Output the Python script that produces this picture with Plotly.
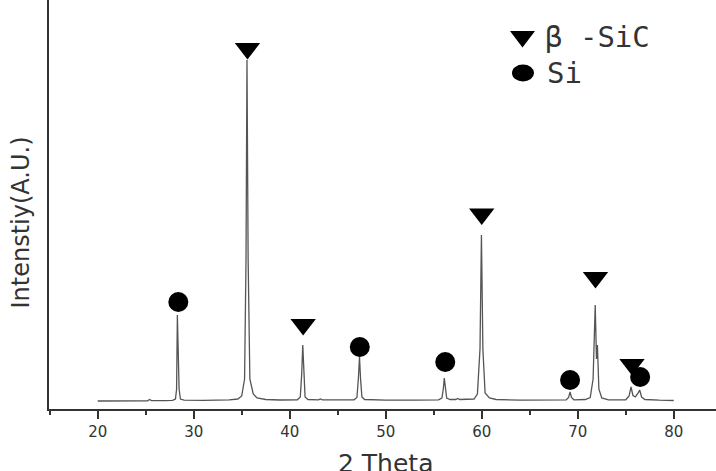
import plotly.graph_objects as go

# XRD pattern points (2-theta, counts)
two_theta = [20.0, 22.0, 24.0, 25.2, 25.4, 25.6, 27.0, 27.8, 28.1, 28.22, 28.3, 28.38, 28.48, 28.62, 29.0,
             31.0, 33.0, 33.5, 33.7, 34.6, 35.0, 35.3, 35.45, 35.55, 35.67, 35.85, 36.2, 36.6, 37.5,
             39.0, 40.8, 41.1, 41.25, 41.36, 41.47, 41.6, 41.9, 43.0, 43.2, 43.4, 46.7, 47.0, 47.15,
             47.27, 47.38, 47.52, 47.8, 50.0, 53.0, 55.5, 55.85, 56.0, 56.1, 56.2, 56.35, 56.7, 57.3,
             57.5, 57.7, 59.2, 59.55, 59.82, 59.97, 60.12, 60.35, 60.8, 61.5, 64.0, 67.0, 68.8, 69.05,
             69.2, 69.35, 69.6, 70.8, 71.3, 71.6, 71.82, 71.95, 72.05, 72.2, 72.5, 73.2, 75.0, 75.35,
             75.55, 75.75, 76.0, 76.3, 76.45, 76.65, 77.0, 78.5, 80.0]
counts = [80, 80, 82, 82, 95, 84, 84, 86, 100, 200, 940, 600, 200, 100, 88,
          86, 88, 95, 92, 100, 130, 300, 1500, 3490, 1500, 300, 150, 110, 95,
          90, 92, 120, 350, 640, 350, 120, 95, 92, 100, 92, 92, 115, 300,
          520, 300, 120, 95, 88, 88, 92, 110, 200, 310, 200, 110, 95, 95,
          105, 95, 100, 150, 600, 1740, 600, 160, 110, 95, 88, 88, 92, 115,
          170, 115, 92, 95, 115, 300, 1040, 500, 640, 200, 110, 92, 92, 130,
          220, 135, 120, 160, 190, 120, 95, 88, 85]

# Phase markers
sic_x = [35.6, 41.4, 60.0, 71.85, 75.65]
sic_y = [3605, 845, 1950, 1315, 445]
si_x = [28.4, 47.3, 56.2, 69.2, 76.5]
si_y = [1070, 620, 470, 290, 320]

x_ticks = [20, 30, 40, 50, 60, 70, 80]
legend_labels = ["β -SiC", "Si"]

fig = go.Figure()
fig.add_trace(go.Scatter(x=two_theta, y=counts, mode="lines",
                         line=dict(color="#555555", width=1.3), showlegend=False))
fig.add_trace(go.Scatter(x=sic_x, y=sic_y, mode="markers",
                         marker=dict(symbol="triangle-down", size=22, color="black"), showlegend=False))
fig.add_trace(go.Scatter(x=si_x, y=si_y, mode="markers",
                         marker=dict(symbol="circle", size=20, color="black"), showlegend=False))

W, H = 716, 471
L, B = 49, 62
pw, ph = W - L, H - B

def px(xp):
    return (xp - L) / pw

def py(yp):
    return (ph - yp) / ph

shapes = [
    dict(type="path", xref="paper", yref="paper", xsizemode="pixel", ysizemode="pixel",
         xanchor=px(522.5), yanchor=py(36.5), path="M-12.5,5.5 L12.5,5.5 L0,-11 Z",
         fillcolor="black", line=dict(width=0)),
    dict(type="circle", xref="paper", yref="paper", xsizemode="pixel", ysizemode="pixel",
         xanchor=px(523), yanchor=py(73), x0=-11, x1=11, y0=-8.5, y1=8.5,
         fillcolor="black", line=dict(width=0)),
]

annotations = [
    dict(text=legend_labels[0], xref="paper", yref="paper", x=px(543), y=py(37), xanchor="left",
         yanchor="middle", showarrow=False, font=dict(family="DejaVu Sans Mono", size=29, color="#333333")),
    dict(text=legend_labels[1], xref="paper", yref="paper", x=px(545), y=py(73), xanchor="left",
         yanchor="middle", showarrow=False, font=dict(family="DejaVu Sans Mono", size=29, color="#333333")),
    dict(text="2 Theta", xref="paper", yref="paper", x=px(385), y=py(463), xanchor="center",
         yanchor="middle", showarrow=False, font=dict(family="DejaVu Sans", size=25, color="#333333")),
    dict(text="Intenstiy(A.U.)", xref="paper", yref="paper", x=px(20), y=py(222.5), xanchor="center",
         yanchor="middle", textangle=-90, showarrow=False,
         font=dict(family="DejaVu Sans", size=24, color="#333333")),
]

fig.update_layout(
    width=W, height=H,
    margin=dict(l=L, r=0, t=0, b=B, pad=0),
    paper_bgcolor="white", plot_bgcolor="white",
    shapes=shapes, annotations=annotations,
    xaxis=dict(range=[14.93, 84.4], tickvals=x_ticks, ticktext=[str(v) for v in x_ticks],
               showline=True, linecolor="#333333", linewidth=1.5, ticks="outside", ticklen=8,
               tickwidth=1.5, tickcolor="#333333", showgrid=False, zeroline=False,
               tickfont=dict(family="DejaVu Sans", size=15, color="#333333"),
               minor=dict(dtick=5, tick0=0, ticks="outside", ticklen=4, tickwidth=1.5,
                          tickcolor="#333333", showgrid=False)),
    yaxis=dict(range=[0, 4090], showline=True, linecolor="#333333", linewidth=1.5,
               ticks="", showticklabels=False, showgrid=False, zeroline=False),
)

fig.write_html("out.html")
